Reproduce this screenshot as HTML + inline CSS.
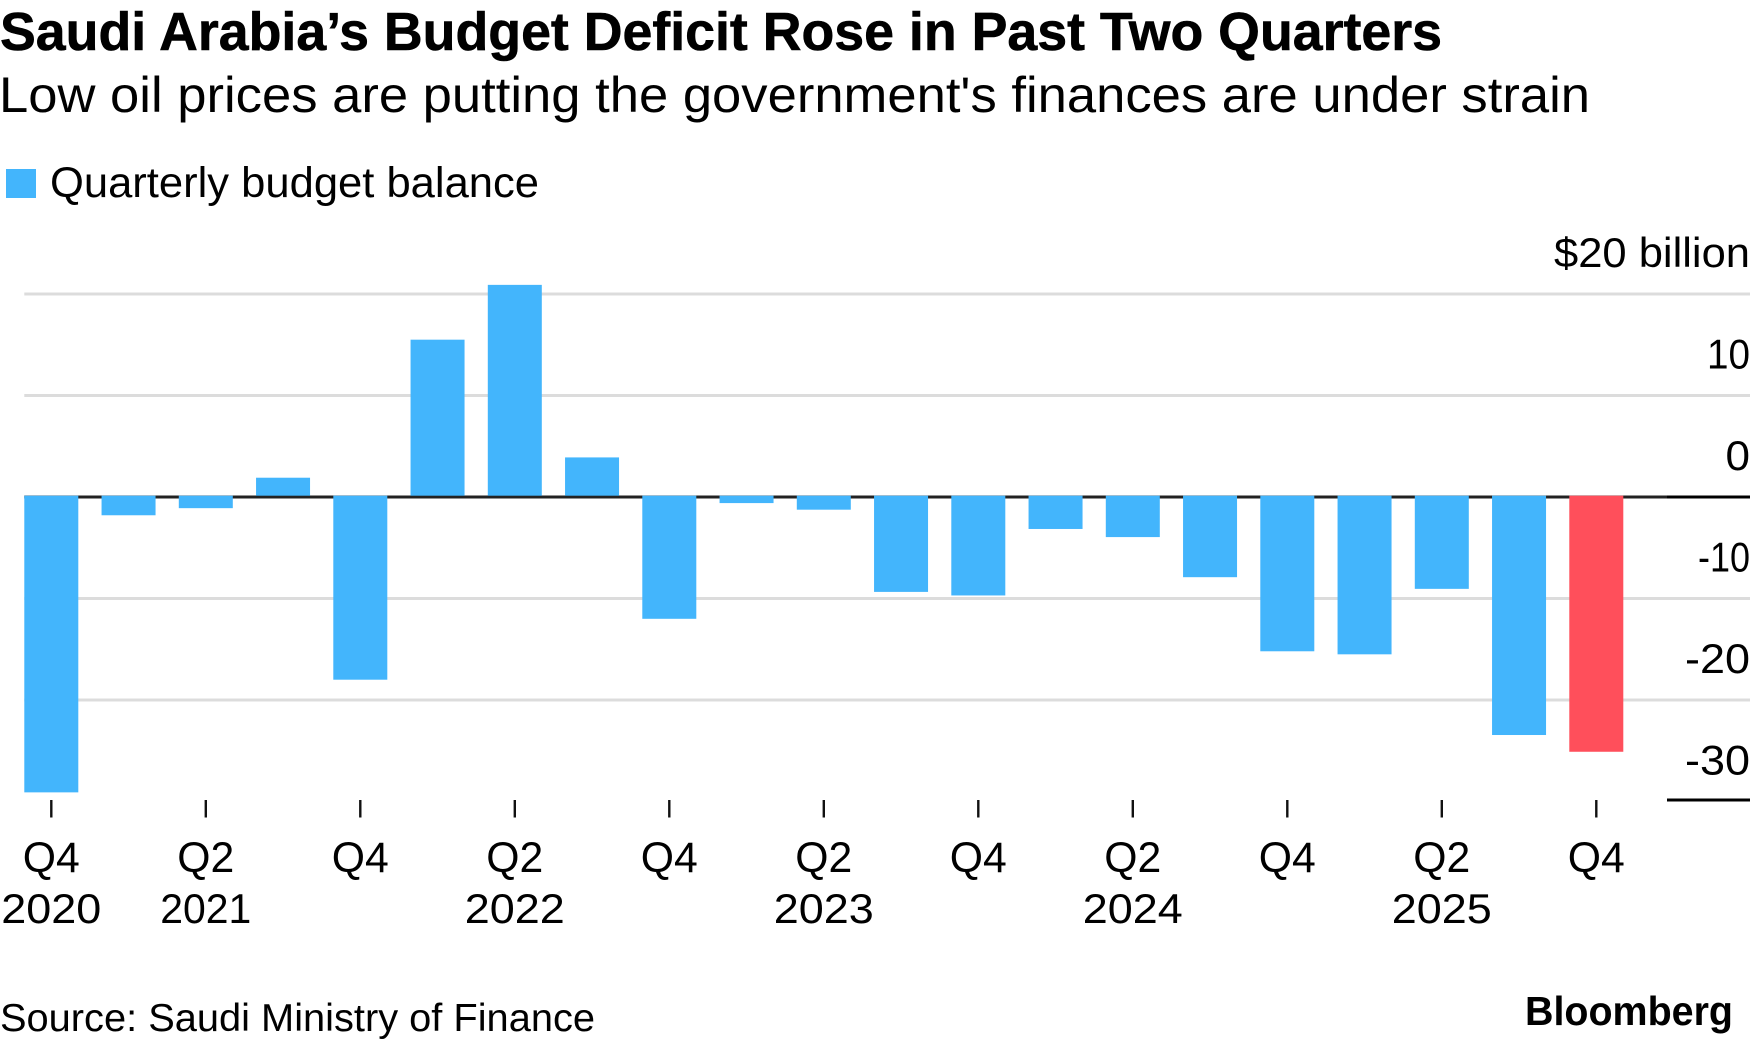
<!DOCTYPE html>
<html lang="en">
<head>
<meta charset="utf-8">
<title>Saudi Arabia's Budget Deficit Rose in Past Two Quarters</title>
<style>
  html, body { margin: 0; padding: 0; background: #fff; }
  body { width: 1750px; height: 1044px; overflow: hidden; }
  svg { display: block; font-family: "Liberation Sans", Arial, sans-serif; fill: #000; }
</style>
</head>
<body>
<svg id="chart" xmlns="http://www.w3.org/2000/svg" width="1750" height="1044" viewBox="0 0 1750 1044">
  <rect x="0" y="0" width="1750" height="1044" fill="#fff"/>
  <text x="0" y="50" font-size="54" font-weight="700" stroke="#000" stroke-width="0.6" textLength="1442" lengthAdjust="spacingAndGlyphs">Saudi Arabia’s Budget Deficit Rose in Past Two Quarters</text>
  <text x="-1" y="112" font-size="50" textLength="1591" lengthAdjust="spacingAndGlyphs">Low oil prices are putting the government's finances are under strain</text>
  <rect x="6" y="169" width="30" height="29" fill="#43b5fc"/>
  <text x="50" y="197" font-size="43" textLength="489" lengthAdjust="spacingAndGlyphs">Quarterly budget balance</text>
  <g id="grid"></g>
  <g id="bars"></g>
  <g id="yaxis"></g>
  <g id="xaxis"></g>
  <text x="0" y="1031" font-size="39" textLength="595" lengthAdjust="spacingAndGlyphs">Source: Saudi Ministry of Finance</text>
  <text x="1525" y="1025" font-size="41" font-weight="700" textLength="208" lengthAdjust="spacingAndGlyphs">Bloomberg</text>
</svg>
<script>
const categories = ["Q4 2020","Q1 2021","Q2 2021","Q3 2021","Q4 2021","Q1 2022","Q2 2022","Q3 2022","Q4 2022","Q1 2023","Q2 2023","Q3 2023","Q4 2023","Q1 2024","Q2 2024","Q3 2024","Q4 2024","Q1 2025","Q2 2025","Q3 2025","Q4 2025"];
const budgetBalance = [-29.1,-1.8,-1.1,1.9,-18.0,15.5,20.9,3.9,-12.0,-0.6,-1.25,-9.35,-9.7,-3.15,-3.95,-7.9,-15.2,-15.5,-9.05,-23.45,-25.1];
const yTicks = [20,10,0,-10,-20,-30];
const xTickQuarters = ["Q4","Q2","Q4","Q2","Q4","Q2","Q4","Q2","Q4","Q2","Q4"];
const xTickYears = ["2020","2021","","2022","","2023","","2024","","2025",""];

const NS = "http://www.w3.org/2000/svg";
const xScale = i => 51.3 + 77.25 * i;
const yScale = v => 497 - 10.15 * v;
const barWidth = 54;
const barBaseOffset = 1.3;

function make(tag, attrs, parent) {
  const el = document.createElementNS(NS, tag);
  for (const k in attrs) el.setAttribute(k, attrs[k]);
  parent.appendChild(el);
  return el;
}

function numberWidth(str) {
  let w = str.startsWith("-1") ? -7 : 0;
  for (const c of str) w += c === "-" ? 16 : c === "1" ? 18.5 : 24.5;
  return w;
}

const grid = document.getElementById("grid");
const barsG = document.getElementById("bars");
const yaxis = document.getElementById("yaxis");
const xaxis = document.getElementById("xaxis");

yTicks.forEach(function (t) {
  const y = yScale(t);
  if (t !== 0 && t !== -30) {
    const line = make("rect", { x: 24.3, y: y - 1.5, width: 1725.7, height: 3, fill: "#dcdcdc" }, grid);
    
    
  }
  const text = t === 20 ? "$20 billion" : String(t);
  const label = make("text", {
    x: 1750, y: y - 27, "font-size": 42, "text-anchor": "end",
    textLength: t === 20 ? 196 : numberWidth(text),
    lengthAdjust: "spacingAndGlyphs"
  }, yaxis);
  label.textContent = text;
  
  
});

const zeroLine = make("rect", { x: 24.3, y: yScale(0) - 1.5, width: 1642.7, height: 3, fill: "#222" }, grid);


const zeroTick = make("rect", { x: 1667, y: yScale(0) - 1.5, width: 83, height: 3, fill: "#000" }, yaxis);


const bottomAxis = make("rect", { x: 1667, y: 798.5, width: 83, height: 3, fill: "#000" }, yaxis);



budgetBalance.forEach(function (v, i) {
  const base = yScale(0) - barBaseOffset;
  const end = yScale(v);
  const bar = make("rect", {
    x: xScale(i) - barWidth / 2,
    y: Math.min(base, end),
    width: barWidth,
    height: Math.abs(end - base),
    fill: i === budgetBalance.length - 1 ? "#ff4f5b" : "#43b5fc"
  }, barsG);
  
  
});

xTickQuarters.forEach(function (q, k) {
  const x = xScale(k * 2);
  const tick = make("rect", { x: x - 1.2, y: 800, width: 2.4, height: 17.5, fill: "#111" }, xaxis);
  
  
  const qLabel = make("text", { x: x, y: 872, "font-size": 43, "text-anchor": "middle", textLength: 57, lengthAdjust: "spacingAndGlyphs" }, xaxis);
  qLabel.textContent = q;
  
  
  if (xTickYears[k]) {
    const yLabel = make("text", {
      x: x, y: 923, "font-size": 42, "text-anchor": "middle",
      textLength: xTickYears[k].includes("1") ? 91 : 100,
      lengthAdjust: "spacingAndGlyphs"
    }, xaxis);
    yLabel.textContent = xTickYears[k];
    
    
  }
});
</script>
</body>
</html>
